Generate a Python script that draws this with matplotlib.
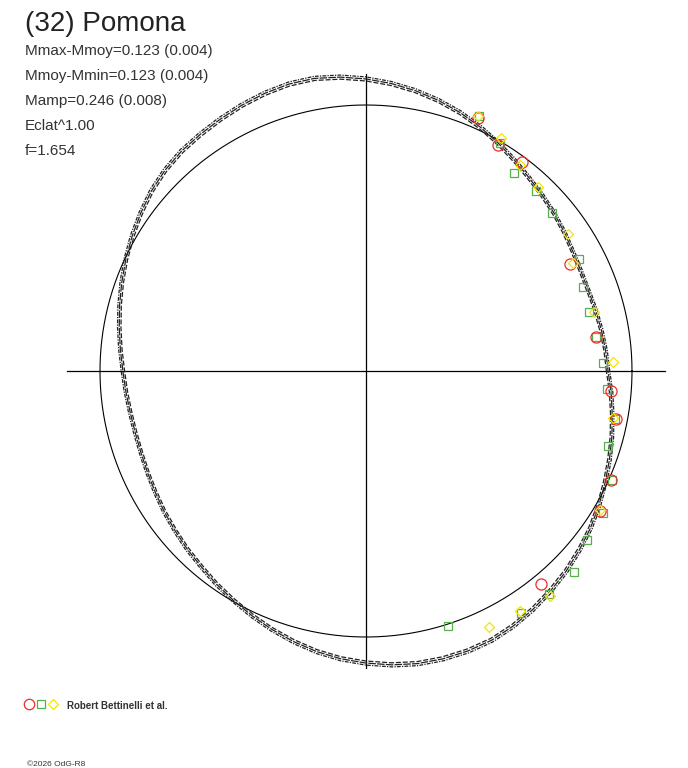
import numpy as np
import matplotlib
matplotlib.use('Agg')
import matplotlib.pyplot as plt

# polar light curve, radius = relative flux (reference circle = 1), every 5 deg
curve_phase = np.arange(0, 360, 5)
curve_flux = [0.910, 0.904, 0.898, 0.893, 0.889, 0.891, 0.898, 0.910, 0.923, 0.936,
              0.951, 0.970, 0.991, 1.013, 1.034, 1.053, 1.070, 1.085, 1.098, 1.109,
              1.117, 1.117, 1.111, 1.103, 1.094, 1.086, 1.079, 1.068, 1.053, 1.034,
              1.015, 0.996, 0.977, 0.959, 0.942, 0.927, 0.914, 0.906, 0.900, 0.898,
              0.900, 0.906, 0.914, 0.925, 0.936, 0.949, 0.962, 0.979, 0.996, 1.015,
              1.034, 1.053, 1.071, 1.086, 1.098, 1.109, 1.117, 1.120, 1.120, 1.117,
              1.107, 1.094, 1.079, 1.064, 1.047, 1.030, 1.011, 0.992, 0.974, 0.957,
              0.940, 0.925]

# observations (phase in degrees, relative flux)
red_phase = [66.1, 59.7, 53.3, 27.7, 8.4, -4.7, -10.9, -24.0, -30.9, -50.6]
red_flux = [1.040, 0.984, 0.980, 0.866, 0.874, 0.924, 0.957, 1.008, 1.025, 1.036]

green_phase = [66.1, 59.6, 53.2, 46.6, 40.3, 27.7, 21.2, 14.8, 8.4, 1.9,
               -4.3, -10.9, -17.2, -23.9, -30.9, -37.4, -44.0, -50.6, -57.4, -72.2]
green_flux = [1.049, 0.994, 0.929, 0.931, 0.917, 0.905, 0.875, 0.867, 0.874, 0.891,
              0.909, 0.953, 0.953, 1.012, 1.039, 1.046, 1.087, 1.085, 1.080, 1.007]

yellow_phase = [66.3, 59.9, 53.2, 46.9, 34.1, 27.6, 14.5, 2.1, -10.8, -30.7, -50.7, -57.3, -64.3]
yellow_flux = [1.047, 1.012, 0.967, 0.947, 0.918, 0.878, 0.885, 0.929, 0.945, 1.023,
               1.093, 1.072, 1.068]

title = "(32) Pomona"
stats = ["Mmax-Mmoy=0.123 (0.004)", "Mmoy-Mmin=0.123 (0.004)",
         "Mamp=0.246 (0.008)", "Eclat^1.00", "f=1.654"]
observer = "Robert Bettinelli et al."
credit = "\u00a92026 OdG-R8"

RED = '#ee2b2b'
GREEN = '#55b04a'
YELLOW = '#f5e400'
W, H = 688, 768
cx, cy, R = 366, 371, 266

plt.rcParams['font.family'] = ['Liberation Sans', 'DejaVu Sans']
fig = plt.figure(figsize=(W / 100, H / 100), dpi=100)
ax = fig.add_axes([0, 0, 1, 1])
ax.set_xlim(-cx / R, (W - cx) / R)
ax.set_ylim(-(H - cy) / R, cy / R)
ax.axis('off')


def to_xy(phase, flux):
    t = np.deg2rad(np.asarray(phase, dtype=float))
    f = np.asarray(flux, dtype=float)
    return f * np.cos(t), f * np.sin(t)


# cross + reference circle
ax.plot([-1.124, 1.124], [0, 0], color='black', lw=0.9)
ax.plot([0, 0], [-1.117, 1.117], color='black', lw=0.9)
t = np.linspace(0, 2 * np.pi, 400)
ax.plot(np.cos(t), np.sin(t), color='black', lw=0.8)

# model curves (several overlapping solutions)
ph = np.append(curve_phase, 360)
fl = np.append(curve_flux, curve_flux[0])
for k, ls in zip([0.993, 1.0, 1.007], [(0, (4, 1.5)), (0, (6, 1)), (0, (3, 1, 1, 1))]):
    x, y = to_xy(ph, fl * k)
    ax.plot(x, y, color='#222222', lw=0.9, ls=ls)

x, y = to_xy(green_phase, green_flux)
ax.plot(x, y, 's', ms=6.3, mfc='none', mec=GREEN, mew=0.9)
x, y = to_xy(red_phase, red_flux)
ax.plot(x, y, 'o', ms=8, mfc='none', mec=RED, mew=0.9)
x, y = to_xy(yellow_phase, yellow_flux)
ax.plot(x, y, 'D', ms=5.6, mfc='none', mec=YELLOW, mew=0.9)


def px(x, y):
    return x / W, 1 - y / H


fig.text(*px(25, 31), title, fontsize=20, color='#222222', va='baseline')
for i, s in enumerate(stats):
    fig.text(*px(25, 55 + 25 * i), s, fontsize=11, color='#333333', va='baseline')

# legend
for (mx, mk, col, ms) in [(29, 'o', RED, 7.5), (41, 's', GREEN, 5.8), (53, 'D', YELLOW, 5.4)]:
    ax.plot([(mx - cx) / R], [(cy - 704) / R], mk, ms=ms, mfc='none', mec=col, mew=0.9)
fig.text(*px(67, 709), observer, fontsize=7, color='#333333', va='baseline',
         fontweight='bold')
fig.text(*px(27, 766), credit, fontsize=6, color='#333333', va='baseline')

fig.savefig('out.png', dpi=100)
